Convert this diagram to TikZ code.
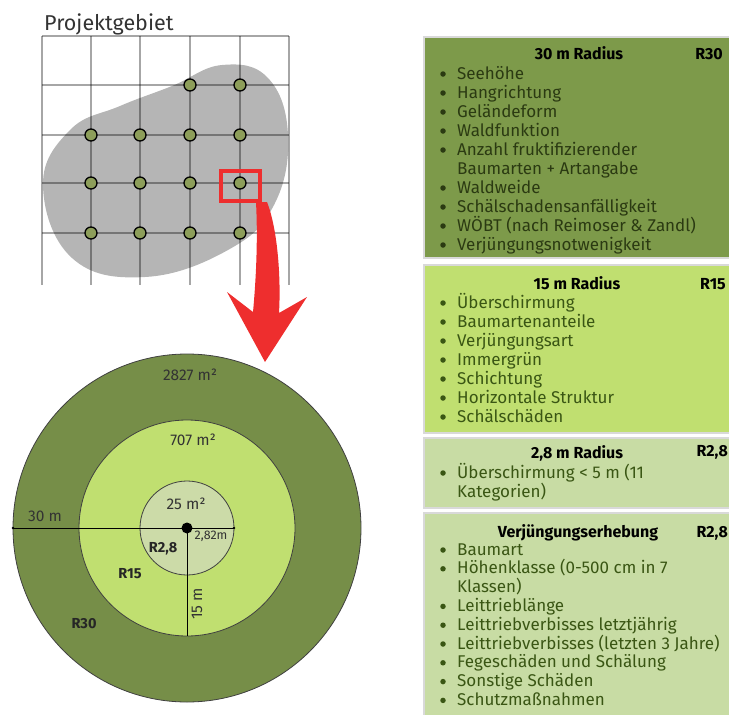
\documentclass[tikz,border=0pt]{standalone}
\usepackage{fontspec}
\setmainfont{Fira Sans}
\definecolor{olive1}{HTML}{7D9A4A}
\definecolor{outerg}{HTML}{768E48}
\definecolor{lime1}{HTML}{C0DF70}
\definecolor{pale1}{HTML}{C8DCA4}
\definecolor{innerg}{HTML}{CCDBA8}
\definecolor{dotg}{HTML}{8D9E5A}
\definecolor{redA}{HTML}{EE2E2E}
\definecolor{txtA}{HTML}{2B3A12}
\definecolor{txtB}{HTML}{3A5614}
\definecolor{blobg}{HTML}{B5B5B5}
\begin{document}
\begin{tikzpicture}[x=1pt,y=-1pt,
  itemtxt/.style={anchor=base west,inner sep=0pt,font=\fontsize{17}{19}\selectfont},
  bul/.style={circle,inner sep=0pt,minimum size=5.5pt},
  ttl/.style={anchor=base,inner sep=0pt,font=\fontsize{16}{18}\selectfont\bfseries,text=black},
  rlab/.style={anchor=base east,inner sep=0pt,font=\fontsize{16}{18}\selectfont\bfseries,text=black},
  boxst/.style={draw=black!15,line width=2pt},
  clab/.style={anchor=base,inner sep=0pt,font=\fontsize{15.5}{17}\selectfont,text=black!80},
  cbold/.style={anchor=base,inner sep=0pt,font=\fontsize{14.5}{16}\selectfont\bfseries,text=black!85},
  gridl/.style={draw=black,opacity=0.35,line width=1.1pt},
  ptdot/.style={circle,draw=black,line width=1.3pt,fill=dotg,minimum size=12pt,inner sep=0pt},
  ring/.style={draw=black!75,line width=0.8pt}]
\useasboundingbox (0,0) rectangle (729,715);

% ---------- Projektgebiet ----------
\node[anchor=base west,inner sep=0pt,font=\fontsize{21.5}{24}\selectfont,text=black!80] (title) at (44,30.5) {Projektgebiet};

\fill[blobg] plot[smooth cycle,tension=0.7] coordinates {(43,185) (70,130) (120,106) (172,86) (222,65) (268,78) (288,135) (274,205) (228,250) (145,277) (72,258)};

\foreach \x in {42,91,140,190,240,289} \draw[gridl] (\x,36) -- (\x,285);
\foreach \y in {36,85,135,183,233} \draw[gridl] (42,\y) -- (289,\y);

\foreach \x/\y [count=\i] in {190/85,240/85,91/135,140/135,190/135,240/135,91/183,140/183,190/183,240/183,91/233,140/233,190/233,240/233}
  \node[ptdot] (p\i) at (\x,\y) {};

\node[draw=redA,line width=3.5pt,minimum width=39pt,minimum height=30pt,inner sep=0pt] (sel) at (240.5,186) {};

% red arrow
\fill[redA] (256,202) .. controls (258,240) and (256,280) .. (253,312) -- (227,292) -- (265,362) -- (307,297) -- (279,313) .. controls (281,280) and (278,230) .. (267,202) -- cycle;
\coordinate (arrowtip) at (265,362);

% ---------- circles ----------
\coordinate (c) at (187,528);
\fill[outerg] (c) circle[radius=174pt];
\draw[ring] (c) circle[radius=174pt];
\fill[lime1] (c) circle[radius=108pt];
\draw[ring] (c) circle[radius=108pt];
\fill[innerg] (c) circle[radius=47pt];
\draw[ring] (c) circle[radius=47pt];

\coordinate (lend) at (13,528);
\coordinate (rend) at (234,528);
\coordinate (bend) at (187,636);
\draw[black,line width=0.8pt] (lend) -- (rend);
\draw[black,line width=0.8pt] (c) -- (bend);
\fill[black] (lend) circle[radius=1.3pt];
\fill[black] (rend) circle[radius=1.3pt];
\node[circle,fill=black,minimum size=11pt,inner sep=0pt] (cdot) at (c) {};

\node[clab] (a2827) at (190,380) {2827 m²};
\node[clab] (a707) at (193,445) {707 m²};
\node[clab] (a25) at (186,509) {25 m²};
\node[clab] (d30) at (45,521) {30 m};
\node[anchor=base,inner sep=0pt,font=\fontsize{12.5}{13}\selectfont,text=black!80] (d282) at (211,539) {2,82m};
\node[clab,rotate=90,anchor=base] (d15) at (202,604) {15 m};
\node[cbold] (l28) at (163,552) {R2,8};
\node[cbold] (l15) at (130,578) {R15};
\node[cbold] (l30) at (84,628) {R30};

% ---------- boxes ----------
\draw[boxst,fill=olive1] (424,37) rectangle (745,258);
\draw[boxst,fill=lime1] (424,265) rectangle (745,433);
\draw[boxst,fill=pale1] (424,438) rectangle (745,508);
\draw[boxst,fill=pale1] (424,513) rectangle (745,730);

% box 1
\node[ttl] (t30) at (579,59) {30 m Radius};
\node[rlab] (r30) at (723,59) {R30};
\foreach \b/\t [count=\i] in {1/Seehöhe,1/Hangrichtung,1/Geländeform,1/Waldfunktion,1/Anzahl fruktifizierender,0/Baumarten + Artangabe,1/Waldweide,1/Schälschadensanfälligkeit,1/WÖBT (nach Reimoser \& Zandl),1/Verjüngungsnotwenigkeit}{
  \node[itemtxt,text=txtA] (a\i) at (457,{79+19*(\i-1)}) {\t};
  \ifnum\b=1 \node[bul,fill=txtA] (ab\i) at (443,{74+19*(\i-1)}) {};\fi
}

% box 2
\node[ttl] (t15) at (577,289) {15 m Radius};
\node[rlab] (r15) at (726,289) {R15};
\foreach \t [count=\i] in {Überschirmung,Baumartenanteile,Verjüngungsart,Immergrün,Schichtung,Horizontale Struktur,Schälschäden}{
  \node[itemtxt,text=txtB] (b\i) at (457,{308+19*(\i-1)}) {\t};
  \node[bul,fill=txtB] (bb\i) at (443,{303+19*(\i-1)}) {};
}

% box 3
\node[ttl] (t28) at (577,458) {2,8 m Radius};
\node[rlab] (r28a) at (728,456) {R2,8};
\node[itemtxt,text=txtB] (c1) at (457,478) {Überschirmung < 5 m (11};
\node[bul,fill=txtB] (cb1) at (443,473) {};
\node[itemtxt,text=txtB] (c2) at (457,497) {Kategorien)};

% box 4
\node[ttl] (tv) at (578,537) {Verjüngungserhebung};
\node[rlab] (r28b) at (728,537) {R2,8};
\foreach \b/\t [count=\i] in {1/Baumart,1/Höhenklasse (0-500 cm in 7,0/Klassen),1/Leittrieblänge,1/Leittriebverbisses letztjährig,1/Leittriebverbisses (letzten 3 Jahre),1/Fegeschäden und Schälung,1/Sonstige Schäden,1/Schutzmaßnahmen}{
  \node[itemtxt,text=txtB] (d\i) at (457,{555+18.8*(\i-1)}) {\t};
  \ifnum\b=1 \node[bul,fill=txtB] (db\i) at (443,{550+18.8*(\i-1)}) {};\fi
}
\end{tikzpicture}
\end{document}
